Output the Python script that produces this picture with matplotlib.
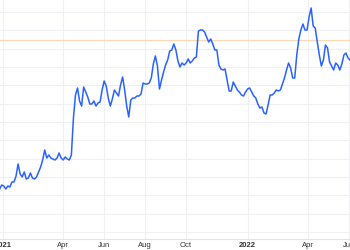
import matplotlib
matplotlib.use("Agg")
import matplotlib.pyplot as plt
import pandas as pd

# price series (one reading every ~3 days)
price = [
    61, 65, 64, 61, 64, 63, 68, 68, 74, 86,
    76, 73, 78, 71, 72, 77, 72, 71, 73, 78,
    83, 90, 100, 92, 95, 92, 91, 90, 92, 97,
    92, 90, 93, 91, 90, 95, 132, 155, 162, 149,
    144, 163, 158, 153, 146, 146, 149, 144, 147, 148,
    160, 169, 164, 152, 144, 151, 160, 157, 154, 165,
    173, 160, 144, 133, 150, 152, 152, 154, 154, 156,
    167, 166, 166, 167, 172, 186, 194, 184, 161, 170,
    178, 185, 190, 199, 200, 206, 200, 189, 183, 187,
    185, 187, 191, 187, 189, 192, 193, 219, 220, 220,
    218, 213, 208, 211, 206, 200, 200, 185, 181, 180,
    181, 170, 159, 159, 168, 164, 160, 158, 155, 154,
    158, 161, 162, 158, 154, 152, 146, 142, 143, 137,
    136, 145, 155, 155, 157, 160, 159, 160, 166, 172,
    180, 187, 182, 172, 172, 195, 211, 220, 226, 220,
    220, 233, 242, 224, 222, 208, 195, 184, 190, 205,
    202, 188, 184, 180, 187, 185, 180, 186, 195, 197,
    192, 190,
]
dates = pd.date_range("2020-12-27", "2022-06-03", periods=len(price))

ref_level = 210

tick_dates = ["2021-01-01", "2021-04-01", "2021-06-01", "2021-08-01",
              "2021-10-01", "2022-01-01", "2022-04-01", "2022-06-01"]
tick_labels = ["2021", "Apr", "Jun", "Aug", "Oct", "2022", "Apr", "Jun"]

plt.rcParams["font.family"] = ["Liberation Sans", "DejaVu Sans"]

fig = plt.figure(figsize=(3.5, 2.5), dpi=100)
ax = fig.add_axes([0, 11 / 250, 1, 239 / 250])

grid_color = "#eef0f4"
ax.set_yticks([18 + 18.35 * k for k in range(13)])
ax.set_xticks(pd.to_datetime(tick_dates))
ax.set_xticklabels(tick_labels)
ax.grid(True, color=grid_color, linewidth=0.8)
ax.set_axisbelow(True)

ax.axhline(ref_level, color="#fcd9b4", linewidth=0.9, zorder=1)
ax.plot(dates, price, color="#2962ff", linewidth=1.1, zorder=3)

left = pd.Timestamp("2021-01-01") - pd.Timedelta(days=4.48)
ax.set_xlim(left, left + pd.Timedelta(days=522.4))
ax.set_ylim(11, 250)

for s in ["top", "left", "right"]:
    ax.spines[s].set_visible(False)
ax.spines["bottom"].set_color("#e0e3eb")
ax.spines["bottom"].set_linewidth(0.8)

ax.tick_params(axis="y", left=False, labelleft=False)
ax.tick_params(axis="x", length=0, pad=2.5, labelsize=5.5, labelcolor="#333333")
for lbl in ax.get_xticklabels():
    if lbl.get_text().isdigit():
        lbl.set_fontweight("bold")

fig.savefig("out.png", dpi=100)
